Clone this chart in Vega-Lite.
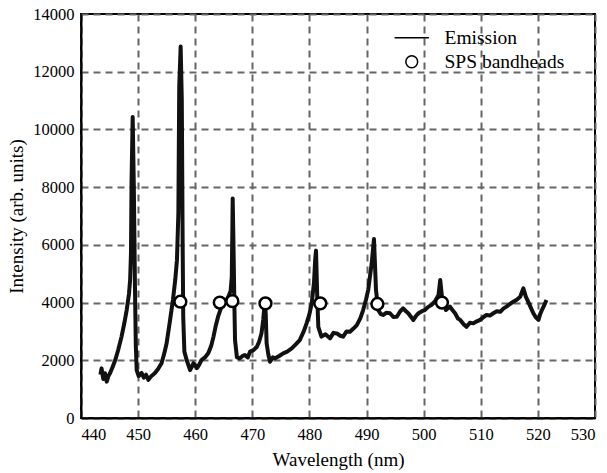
{
  "$schema": "https://vega.github.io/schema/vega-lite/v6.json",
  "width": 514,
  "height": 404,
  "autosize": "none",
  "padding": {"left": 81, "top": 14, "right": 12, "bottom": 55},
  "background": "white",
  "config": {
    "view": {"stroke": "black", "strokeWidth": 2},
    "axis": {
      "labelFont": "Liberation Serif", "labelFontSize": 16.5, "labelColor": "black",
      "titleFont": "Liberation Serif", "titleFontSize": 19, "titleFontWeight": "normal", "titleColor": "black",
      "ticks": false, "domainColor": "black", "domainWidth": 2,
      "grid": true, "gridColor": "#666", "gridDash": [7, 5], "gridWidth": 2, "gridOpacity": 1,
      "labelPadding": 8, "format": "d"
    },
    "legend": {
      "labelFont": "Liberation Serif", "labelFontSize": 19.5, "labelColor": "black",
      "padding": 0, "rowPadding": 3
    }
  },
  "datasets": {
    "em": [
      {"wl":443.4,"I":1500},{"wl":443.6,"I":1720},{"wl":443.9,"I":1350},{"wl":444.2,"I":1550},{"wl":444.5,"I":1260},{"wl":444.8,"I":1450},{"wl":445.1,"I":1560},{"wl":445.5,"I":1750},{"wl":446.0,"I":2010},{"wl":446.5,"I":2350},{"wl":447.1,"I":2820},{"wl":447.6,"I":3300},{"wl":448.0,"I":3740},{"wl":448.4,"I":4300},{"wl":448.6,"I":4780},{"wl":448.75,"I":5700},{"wl":448.85,"I":8200},{"wl":449.05,"I":10430},{"wl":449.25,"I":8000},{"wl":449.45,"I":4500},{"wl":449.6,"I":2500},{"wl":449.75,"I":1660},{"wl":450.1,"I":1450},{"wl":450.6,"I":1560},{"wl":451.0,"I":1400},{"wl":451.4,"I":1500},{"wl":451.8,"I":1320},{"wl":452.3,"I":1450},{"wl":452.95,"I":1560},{"wl":453.5,"I":1700},{"wl":454.1,"I":1900},{"wl":454.6,"I":2250},{"wl":455.0,"I":2600},{"wl":455.6,"I":3400},{"wl":456.1,"I":4100},{"wl":456.5,"I":4780},{"wl":456.8,"I":5470},{"wl":457.05,"I":7100},{"wl":457.2,"I":11480},{"wl":457.45,"I":12870},{"wl":457.65,"I":11000},{"wl":457.8,"I":6000},{"wl":457.9,"I":3500},{"wl":458.1,"I":2300},{"wl":458.5,"I":2010},{"wl":459.1,"I":1660},{"wl":459.7,"I":1900},{"wl":460.3,"I":1730},{"wl":460.7,"I":1850},{"wl":461.1,"I":2010},{"wl":461.7,"I":2100},{"wl":462.3,"I":2250},{"wl":462.8,"I":2500},{"wl":463.2,"I":2820},{"wl":463.6,"I":3200},{"wl":464.0,"I":3510},{"wl":464.6,"I":3860},{"wl":465.2,"I":4000},{"wl":465.8,"I":4200},{"wl":466.2,"I":4400},{"wl":466.4,"I":4900},{"wl":466.5,"I":6500},{"wl":466.56,"I":7610},{"wl":466.7,"I":6000},{"wl":466.85,"I":4000},{"wl":466.97,"I":2700},{"wl":467.3,"I":2100},{"wl":467.8,"I":2070},{"wl":468.3,"I":2150},{"wl":468.7,"I":2180},{"wl":469.2,"I":2100},{"wl":469.6,"I":2300},{"wl":470.2,"I":2350},{"wl":470.8,"I":2470},{"wl":471.2,"I":2650},{"wl":471.6,"I":2930},{"wl":471.9,"I":3400},{"wl":472.2,"I":4050},{"wl":472.35,"I":3600},{"wl":472.5,"I":2590},{"wl":472.8,"I":2200},{"wl":473.1,"I":1950},{"wl":473.6,"I":2100},{"wl":474.0,"I":2070},{"wl":474.7,"I":2150},{"wl":475.4,"I":2240},{"wl":476.1,"I":2300},{"wl":476.9,"I":2410},{"wl":477.6,"I":2550},{"wl":478.3,"I":2700},{"wl":479.0,"I":3000},{"wl":479.5,"I":3280},{"wl":480.0,"I":3600},{"wl":480.4,"I":3970},{"wl":480.8,"I":4700},{"wl":481.0,"I":5470},{"wl":481.15,"I":5800},{"wl":481.35,"I":4300},{"wl":481.55,"I":3160},{"wl":482.1,"I":2820},{"wl":482.8,"I":2900},{"wl":483.6,"I":2760},{"wl":484.2,"I":2950},{"wl":484.8,"I":2930},{"wl":485.4,"I":2850},{"wl":485.9,"I":2820},{"wl":486.5,"I":3000},{"wl":487.1,"I":2990},{"wl":487.7,"I":3100},{"wl":488.3,"I":3220},{"wl":488.9,"I":3450},{"wl":489.4,"I":3740},{"wl":489.9,"I":4100},{"wl":490.3,"I":4450},{"wl":490.9,"I":5360},{"wl":491.3,"I":6200},{"wl":491.5,"I":5200},{"wl":491.65,"I":4440},{"wl":492.05,"I":3740},{"wl":492.5,"I":3600},{"wl":492.9,"I":3570},{"wl":493.5,"I":3650},{"wl":494.1,"I":3630},{"wl":494.7,"I":3500},{"wl":495.3,"I":3510},{"wl":495.9,"I":3700},{"wl":496.4,"I":3800},{"wl":496.9,"I":3700},{"wl":497.3,"I":3630},{"wl":497.8,"I":3500},{"wl":498.2,"I":3400},{"wl":498.7,"I":3550},{"wl":499.1,"I":3630},{"wl":499.7,"I":3700},{"wl":500.2,"I":3740},{"wl":500.8,"I":3850},{"wl":501.4,"I":3920},{"wl":502.0,"I":4050},{"wl":502.6,"I":4260},{"wl":502.9,"I":4780},{"wl":503.2,"I":4200},{"wl":503.9,"I":3740},{"wl":504.6,"I":3860},{"wl":505.0,"I":3750},{"wl":505.5,"I":3630},{"wl":506.0,"I":3450},{"wl":506.4,"I":3400},{"wl":507.0,"I":3250},{"wl":507.5,"I":3160},{"wl":508.1,"I":3300},{"wl":508.7,"I":3280},{"wl":509.3,"I":3350},{"wl":509.9,"I":3400},{"wl":510.5,"I":3500},{"wl":511.0,"I":3570},{"wl":511.6,"I":3550},{"wl":512.2,"I":3630},{"wl":512.8,"I":3700},{"wl":513.4,"I":3680},{"wl":514.0,"I":3800},{"wl":514.5,"I":3860},{"wl":515.1,"I":3950},{"wl":515.7,"I":4030},{"wl":516.3,"I":4100},{"wl":516.9,"I":4200},{"wl":517.45,"I":4490},{"wl":517.9,"I":4200},{"wl":518.3,"I":4030},{"wl":518.7,"I":3850},{"wl":519.2,"I":3630},{"wl":519.6,"I":3500},{"wl":520.1,"I":3400},{"wl":520.4,"I":3600},{"wl":520.7,"I":3740},{"wl":521.1,"I":3900},{"wl":521.5,"I":4090}
    ],
    "bh": [
      {"wl":457.4,"I":4030},{"wl":464.3,"I":4000},{"wl":466.5,"I":4050},{"wl":472.3,"I":3970},{"wl":481.9,"I":3970},{"wl":491.9,"I":3950},{"wl":503.2,"I":4000}
    ]
  },
  "layer": [
    {
      "data": {"name": "em"},
      "mark": {"type": "line", "color": "#111", "strokeWidth": 4, "strokeJoin": "round"},
      "encoding": {
        "x": {"field": "wl", "type": "quantitative", "scale": {"domain": [440, 530], "nice": false},
              "axis": {"values": [440,450,460,470,480,490,500,510,520,530], "title": "Wavelength (nm)", "titlePadding": 8}},
        "y": {"field": "I", "type": "quantitative", "scale": {"domain": [0, 14000], "nice": false},
              "axis": {"values": [0,2000,4000,6000,8000,10000,12000,14000], "title": "Intensity (arb. units)", "labelPadding": 7, "titlePadding": 6}}
      }
    },
    {
      "data": {"name": "bh"},
      "mark": {"type": "point", "filled": true, "fill": "white", "stroke": "black", "strokeWidth": 2.5, "size": 140, "opacity": 1},
      "encoding": {
        "x": {"field": "wl", "type": "quantitative"},
        "y": {"field": "I", "type": "quantitative"},
        "shape": {
          "datum": "SPS bandheads",
          "scale": {"domain": ["Emission", "SPS bandheads"], "range": ["M-2.9,0H2.9", "circle"]},
          "legend": {
            "title": null, "orient": "none", "legendX": 321, "legendY": 14, "labelOffset": 23,
            "symbolSize": 140,
            "encode": {
              "symbols": {
                "update": {
                  "fill": {"value": "white"},
                  "stroke": {"value": "black"},
                  "strokeWidth": {"value": 2.5},
                  "opacity": {"value": 1}
                }
              }
            }
          }
        }
      }
    }
  ]
}
